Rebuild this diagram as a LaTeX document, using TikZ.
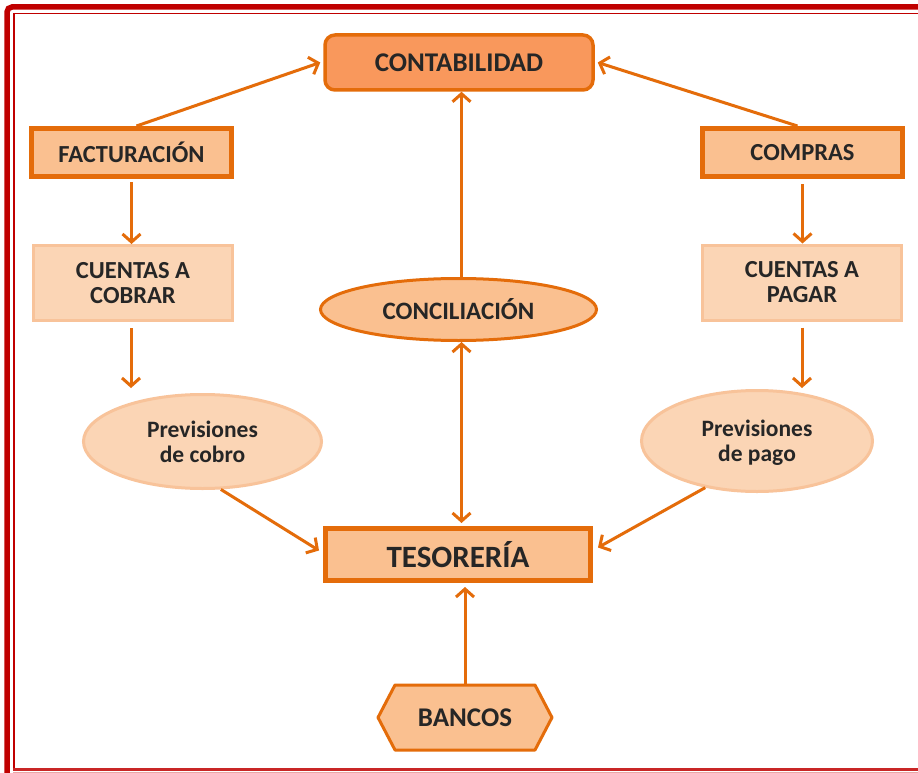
\documentclass[tikz,border=0pt]{standalone}
\usepackage{fontspec}
\setmainfont{Carlito}
\usetikzlibrary{arrows.meta,shapes.geometric}
\definecolor{ored}{HTML}{C00000}
\definecolor{oline}{HTML}{E46C0A}
\definecolor{ofill}{HTML}{FAC090}
\definecolor{olight}{HTML}{FBD5B5}
\definecolor{oborder}{HTML}{F8C39A}
\definecolor{odark}{HTML}{F9985C}
\definecolor{txt}{HTML}{262626}
\begin{document}
\begin{tikzpicture}[x=1pt,y=-1pt,
  base/.style={font=\bfseries\fontsize{24.5}{25}\selectfont, text=txt, inner sep=0pt, align=center},
  mainbox/.style={base, draw=oline, fill=ofill, line width=5},
  lightbox/.style={base, draw=oborder, fill=olight, line width=3},
  lightell/.style={base, ellipse, draw=oborder, fill=olight, line width=3, font=\bfseries\fontsize{23.5}{25}\selectfont},
  conn/.style={draw=oline, line width=3, -{Straight Barb[length=8pt,width=18pt]}},
  conn2/.style={draw=oline, line width=3, {Straight Barb[length=8pt,width=18pt]}-{Straight Barb[length=8pt,width=18pt]}}
]
\useasboundingbox (0,0) rectangle (918,773);
\fill[white] (0,0) rectangle (918,773);
% frame
\draw[ored, line width=5.5, rounded corners=5] (7,773) -- (7,7) -- (925,7);
\draw[ored, line width=1.8] (14,769) -- (14,13.5) -- (925,13.5);
\draw[ored!85!white, line width=2.5] (13,769.5) -- (925,769.5);
\draw[ored!35!white, line width=1] (13,772) -- (925,772);

% nodes
\node[base, draw=oline, fill=odark, line width=3.5, rounded corners=10,
      font=\bfseries\fontsize{27}{28}\selectfont,
      minimum width=268, minimum height=55] (cont) at (459,62.5) {CONTABILIDAD};
\node[mainbox, minimum width=200, minimum height=48] (fact) at (131.5,152.5) {FACTURACIÓN};
\node[mainbox, minimum width=200, minimum height=48] (comp) at (802.5,152.5) {COMPRAS};
\node[lightbox, minimum width=199, minimum height=75] (cc) at (133,283) {CUENTAS A\\COBRAR};
\node[lightbox, minimum width=199, minimum height=75] (cp) at (802,282.5) {CUENTAS A\\PAGAR};
\node[base, ellipse, draw=oline, fill=ofill, line width=3, font=\bfseries\fontsize{25}{26}\selectfont,
      minimum width=276, minimum height=62] (conc) at (458.5,309.5) {CONCILIACIÓN};
\node[lightell, minimum width=238, minimum height=94] (pc) at (202.5,441.5) {Previsiones\\de cobro};
\node[lightell, minimum width=231, minimum height=101] (pp) at (757,441) {Previsiones\\de \smash{pag}o};
\node[mainbox, font=\bfseries\fontsize{31}{32}\selectfont,
      minimum width=265, minimum height=52] (tes) at (458,554.5) {TESORERÍA};
\filldraw[draw=oline, fill=ofill, line width=3, line join=round]
  (378,717.5) -- (395,685) -- (535,685) -- (552,717.5) -- (535,750) -- (395,750) -- cycle;
\node[base, font=\bfseries\fontsize{27}{28}\selectfont,
      minimum width=174, minimum height=65] (ban) at (465,717.5) {BANCOS};

% connectors
\draw[conn] ([xshift=5]fact.north) -- ([xshift=-3]cont.west);
\draw[conn] ([xshift=-5]comp.north) -- ([xshift=3]cont.east);
\draw[conn, shorten <=3] (fact.south) -- (fact.south |- cc.north);
\draw[conn, shorten <=6] ([xshift=-2]cc.south) -- ([xshift=-2,yshift=5]cc.south |- pc.north);
\draw[conn, shorten <=5] (comp.south) -- (comp.south |- cp.north);
\draw[conn, shorten <=6] (cp.south) -- ([yshift=1]cp.south |- pp.north);
\draw[conn] (pc.-69) -- ([xshift=-4,yshift=4]tes.west);
\draw[conn] (pp.-138) -- ([xshift=5,yshift=7]tes.east);
\draw[conn] ([xshift=3]conc.north) -- ([xshift=3]conc.north |- cont.south);
\draw[conn2, shorten >=3] ([xshift=3]conc.south) -- ([xshift=3]conc.south |- tes.north);
\draw[conn, shorten >=4] (ban.north) -- (ban.north |- tes.south);
\end{tikzpicture}
\end{document}
